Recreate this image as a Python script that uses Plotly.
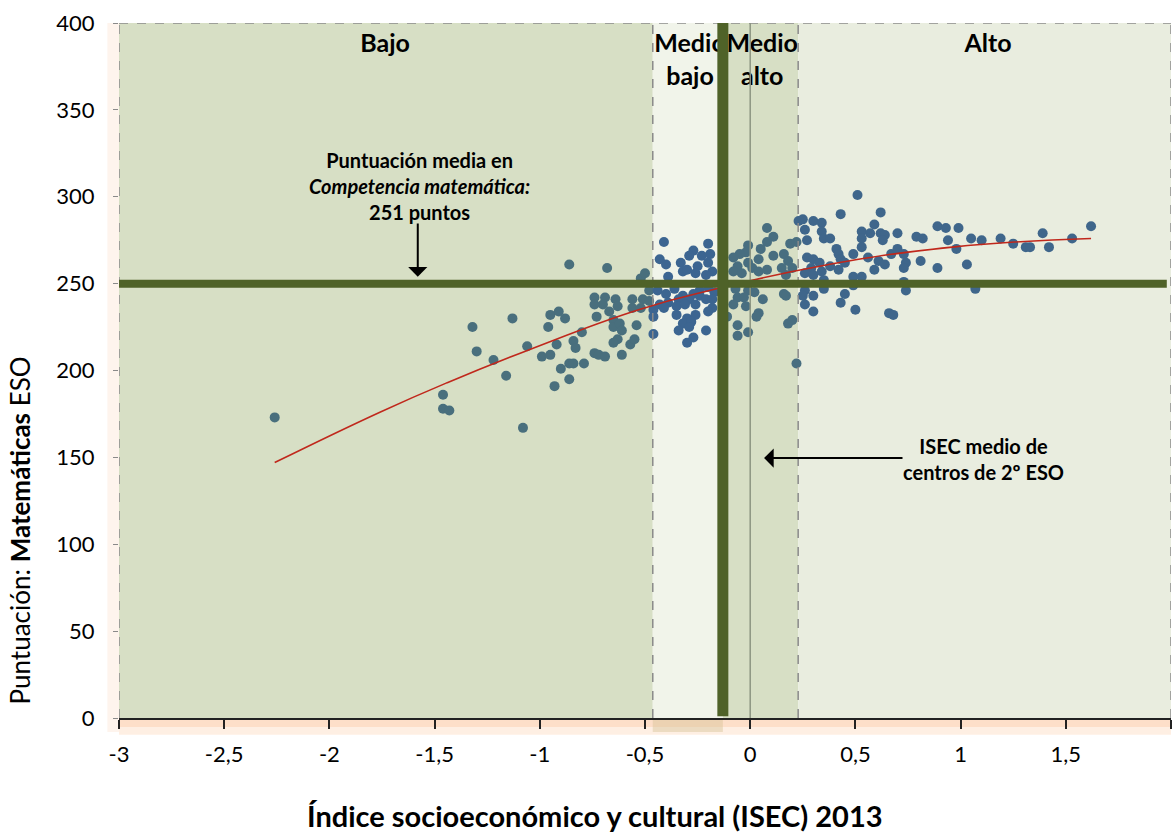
import plotly.graph_objects as go
import numpy as np

# ISEC (x) and maths score (y) for each school
isec = [
    # Bajo
    -2.26, -1.46, -1.46, -1.43, -1.32, -1.30, -1.22, -1.16, -1.13, -1.08, -1.06, -0.99, -0.95, -0.93,
    -0.90, -0.86, -0.86, -0.84, -0.92, -0.96, -0.95, -0.91, -0.88, -0.84, -0.83, -0.80, -0.79, -0.74,
    -0.72, -0.69, -0.74, -0.69, -0.64, -0.74, -0.70, -0.73, -0.67, -0.63, -0.65, -0.65, -0.62, -0.61,
    -0.63, -0.65, -0.61, -0.57, -0.55, -0.54, -0.56, -0.51, -0.48, -0.56, -0.52, -0.52, -0.50, -0.48,
    -0.86, -0.68,
    # Medio bajo
    -0.41, -0.43, -0.40, -0.33, -0.27, -0.29, -0.20, -0.19, -0.23, -0.25, -0.26, -0.32, -0.30, -0.39,
    -0.20, -0.18, -0.21, -0.44, -0.40, -0.36, -0.32, -0.27, -0.24, -0.20, -0.17, -0.43, -0.39, -0.34,
    -0.29, -0.24, -0.21, -0.18, -0.46, -0.41, -0.35, -0.31, -0.26, -0.18, -0.35, -0.30, -0.26, -0.20,
    -0.32, -0.28, -0.34, -0.29, -0.21, -0.46, -0.27, -0.30, -0.46,
    # Medio alto
    0.08, 0.11, 0.08, 0.05, -0.01, -0.02, -0.05, -0.08, 0.11, 0.04, -0.01, 0.01, -0.06, -0.08,
    -0.04, 0.04, 0.08, 0.16, 0.19, 0.22, 0.18, 0.15, 0.20, 0.17, -0.07, -0.01, 0.02, -0.06,
    -0.03, -0.08, -0.02, 0.06, -0.11, -0.06, -0.06, -0.01, 0.04, 0.03, 0.16, 0.17, 0.18, 0.20,
    0.22,
    # Alto
    0.23, 0.25, 0.26, 0.27, 0.30, 0.34, 0.34, 0.35, 0.27, 0.30, 0.33, 0.29, 0.26, 0.30,
    0.34, 0.35, 0.26, 0.25, 0.26, 0.30, 0.30, 0.51, 0.43, 0.62, 0.59, 0.38, 0.53, 0.53,
    0.57, 0.62, 0.64, 0.63, 0.70, 0.53, 0.41, 0.42, 0.43, 0.49, 0.45, 0.38, 0.42, 0.56,
    0.61, 0.64, 0.67, 0.70, 0.73, 0.74, 0.73, 0.81, 0.59, 0.79, 0.82, 0.89, 0.93, 0.94,
    0.89, 0.49, 0.53, 0.49, 0.35, 0.45, 0.43, 0.50, 0.66, 0.68, 0.73, 0.74, 0.99, 0.98,
    1.05, 1.10, 1.03, 1.07, 1.19, 1.25, 1.31, 1.33, 1.39, 1.42, 1.53, 1.62,
]
mates = [
    # Bajo
    173, 186, 178, 177, 225, 211, 206, 197, 230, 167, 214, 208, 209, 191,
    201, 195, 204, 204, 215, 225, 232, 234, 230, 217, 213, 222, 204, 210,
    209, 208, 242, 242, 241, 238, 238, 231, 234, 237, 229, 225, 227, 223,
    218, 216, 209, 215, 218, 226, 241, 241, 240, 236, 236, 253, 256, 246,
    261, 259,
    # Medio bajo
    274, 264, 261, 262, 269, 266, 273, 267, 266, 260, 256, 257, 258, 254,
    262, 257, 255, 246, 244, 247, 243, 244, 246, 248, 245, 238, 239, 241,
    241, 243, 241, 241, 235, 236, 237, 238, 238, 236, 232, 230, 232, 234,
    227, 228, 223, 225, 223, 221, 219, 216, 231,
    # Medio alto
    282, 277, 274, 270, 272, 268, 267, 265, 266, 264, 262, 259, 260, 257,
    256, 257, 258, 267, 273, 274, 263, 259, 259, 255, 247, 246, 245, 242,
    242, 238, 237, 241, 231, 226, 220, 222, 233, 231, 244, 243, 227, 229,
    204,
    # Alto
    286, 287, 281, 275, 286, 285, 280, 276, 265, 264, 262, 259, 256, 255,
    257, 252, 246, 243, 238, 243, 234, 301, 290, 291, 284, 276, 280, 276,
    279, 279, 278, 275, 279, 271, 270, 267, 264, 267, 262, 260, 258, 265,
    263, 261, 267, 270, 267, 262, 259, 263, 258, 277, 276, 283, 282, 275,
    259, 254, 254, 249, 247, 244, 239, 235, 233, 232, 251, 246, 282, 270,
    276, 275, 261, 247, 276, 273, 271, 271, 279, 271, 276, 283,
]

# fitted trend line
tend_x = [-2.26, -1.76, -1.44, -1.05, -0.53, -0.16, 0.33, 0.96, 1.62]
tend_y = [147, 176, 193, 212, 235, 247, 260, 271, 276]

# ISEC groups
limites = [-3, -0.463, -0.13, 0.228, 2]
grupos = ['Bajo', 'Medio<br>bajo', 'Medio<br>alto', 'Alto']
grupo_x = [-1.735, -0.286, 0.057, 1.13]

media_mat = 250      # average maths score line
isec_medio = -0.13   # average ISEC of schools

x_ticks = [-3, -2.5, -2, -1.5, -1, -0.5, 0, 0.5, 1, 1.5, 2]
x_ticktext = ['-3', '-2,5', '-2', '-1,5', '-1', '-0,5', '0', '0,5', '1', '1,5', '2']
y_ticks = [0, 50, 100, 150, 200, 250, 300, 350, 400]

FONT = 'Lato'
fills = ['#d7dfc5', '#f1f4ea', '#d7dfc5', '#e9eddf']
dot_cols = ['#496f7d', '#3c6591', '#486e80', '#3f668b']

fig = go.Figure()

# region backgrounds
for i in range(4):
    fig.add_shape(type='rect', x0=limites[i], x1=limites[i + 1], y0=0, y1=400,
                  fillcolor=fills[i], line_width=0, layer='below')

# points, tinted by the region they sit in
xs = np.array(isec)
idx = np.clip(np.searchsorted(limites, xs) - 1, 0, 3)
fig.add_trace(go.Scatter(
    x=isec, y=mates, mode='markers',
    marker=dict(size=10, color=[dot_cols[k] for k in idx], line_width=0),
    showlegend=False, hoverinfo='skip',
))

fig.add_trace(go.Scatter(
    x=tend_x, y=tend_y, mode='lines',
    line=dict(color='#c0281c', width=1.6, shape='spline', smoothing=1.3),
    showlegend=False, hoverinfo='skip',
))

# group labels
fig.add_trace(go.Scatter(
    x=grupo_x, y=[394] * 4, mode='text', text=['<b>%s</b>' % g for g in grupos],
    textposition='bottom center',
    textfont=dict(family=FONT, size=25, color='black'),
    showlegend=False, hoverinfo='skip',
))

# dashed borders
for xv in limites:
    if xv == isec_medio:
        continue
    fig.add_shape(type='line', x0=xv, x1=xv, y0=0, y1=400, layer='above',
                  line=dict(color='#8a8a8a', width=1.5, dash='dash'))
fig.add_shape(type='line', x0=-3, x1=2, y0=400, y1=400, layer='above',
              line=dict(color='#8a8a8a', width=1.5, dash='dash'))

# thin line at 0
fig.add_shape(type='line', x0=0, x1=0, y0=0, y1=400, layer='above',
              line=dict(color='#8d9582', width=1.5))

# thick reference lines
fig.add_shape(type='line', x0=-3, x1=1.98, y0=media_mat, y1=media_mat, layer='above',
              line=dict(color='#4f6228', width=8))
fig.add_shape(type='line', x0=isec_medio, x1=isec_medio, y0=1, y1=400, layer='above',
              line=dict(color='#4f6228', width=11))

# soft peach shadow under the axis and at the left edge
fig.add_shape(type='rect', xref='paper', yref='paper', x0=0, x1=1, y0=-0.024, y1=0,
              fillcolor='rgba(251,208,175,0.35)', line_width=0, layer='below')
fig.add_shape(type='rect', xref='paper', yref='paper', x0=0, x1=1, y0=-0.013, y1=0,
              fillcolor='rgba(251,208,175,0.5)', line_width=0, layer='below')
fig.add_shape(type='rect', xref='x', yref='paper', x0=limites[1], x1=isec_medio, y0=-0.02, y1=0,
              fillcolor='rgba(215,195,150,0.45)', line_width=0, layer='below')
fig.add_shape(type='rect', xref='paper', yref='paper', x0=-0.011, x1=0, y0=-0.02, y1=1,
              fillcolor='rgba(251,218,195,0.3)', line_width=0, layer='below')

# annotations with arrows
fig.add_annotation(
    x=-1.571, y=306, xref='x', yref='y', showarrow=False,
    xanchor='center', yanchor='middle',
    text='<b>Puntuación media en<br><i>Competencia matemática:</i><br>251 puntos</b>',
    font=dict(family=FONT, size=20, color='black'), align='center',
)
fig.add_annotation(
    x=-1.58, y=254, ax=-1.58, ay=285.5, xref='x', yref='y', axref='x', ayref='y',
    text='', showarrow=True, arrowhead=1, arrowsize=1.6, arrowwidth=2, arrowcolor='black',
)
fig.add_annotation(
    x=1.111, y=149, xref='x', yref='y', showarrow=False,
    xanchor='center', yanchor='middle',
    text='<b>ISEC medio de<br>centros de 2º ESO</b>',
    font=dict(family=FONT, size=20, color='black'), align='center',
)
fig.add_annotation(
    x=0.066, y=149.6, ax=0.731, ay=149.6, xref='x', yref='y', axref='x', ayref='y',
    text='', showarrow=True, arrowhead=1, arrowsize=1.6, arrowwidth=2, arrowcolor='black',
)

# axis titles
fig.add_annotation(
    x=-0.094, y=0.27, xref='paper', yref='paper', showarrow=False, textangle=-90,
    xanchor='center', yanchor='middle',
    text='Puntuación: <b>Matemáticas</b> ESO',
    font=dict(family=FONT, size=26, color='black'),
)
fig.add_annotation(
    x=0.4525, y=-0.1396, xref='paper', yref='paper', showarrow=False,
    xanchor='center', yanchor='middle',
    text='<b>Índice socioeconómico y cultural (ISEC) 2013</b>',
    font=dict(family=FONT, size=29, color='black'),
)

fig.update_layout(
    width=1172,
    height=832,
    margin=dict(l=119, r=1, t=23, b=114),
    paper_bgcolor='white',
    plot_bgcolor='white',
    font=dict(family=FONT, size=22, color='black'),
)

fig.update_xaxes(
    range=[-3, 2],
    tickvals=x_ticks,
    ticktext=x_ticktext,
    automargin=False,
    showgrid=False,
    zeroline=False,
    showline=True,
    linecolor='#222222',
    linewidth=2,
    ticks='outside',
    ticklen=9,
    tickwidth=2,
    tickcolor='#222222',
    ticklabelstandoff=7,
    tickfont=dict(family=FONT, size=22, color='black'),
)
fig.update_yaxes(
    range=[0, 400],
    tickvals=y_ticks,
    automargin=False,
    showgrid=False,
    zeroline=False,
    showline=False,
    ticks='outside',
    ticklen=5,
    tickcolor='#8a8a8a',
    ticklabelstandoff=14,
    tickfont=dict(family=FONT, size=22, color='black'),
)

# the page's default body margin would shift the figure by 8px
fig.write_html('out.html', config={'displayModeBar': False},
               post_script="document.body.style.margin='0px';")
